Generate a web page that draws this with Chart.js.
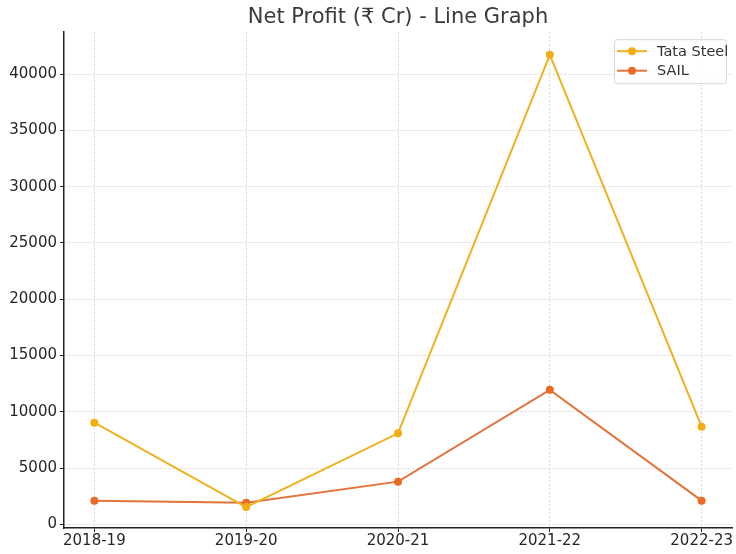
<!DOCTYPE html>
<html>
<head>
<meta charset="utf-8">
<script src="https://cdn.jsdelivr.net/npm/chart.js@4/dist/chart.umd.min.js"></script>
<style>
  html, body { margin: 0; padding: 0; background: #fff; }
  #wrap { width: 736px; height: 554px; }
</style>
</head>
<body>
<div id="wrap"><canvas id="myChart" width="736" height="554"></canvas></div>
<script>
const categories = ['2018-19', '2019-20', '2020-21', '2021-22', '2022-23'];
const tataSteel = [9025, 1530, 8080, 41720, 8670];
const sail = [2100, 1920, 3790, 11950, 2100];
const yTicks = [0, 5000, 10000, 15000, 20000, 25000, 30000, 35000, 40000];

const FONT = "'DejaVu Sans', sans-serif";

// matplotlib style legend: line + marker, boxed, top right
const boxLegend = {
  id: 'boxLegend',
  afterDraw(chart) {
    const ctx = chart.ctx;
    const area = chart.chartArea;
    const w = 112, h = 44;
    const x0 = area.right - w - 6, y0 = area.top + 7;
    ctx.save();
    ctx.fillStyle = 'rgba(255,255,255,0.85)';
    ctx.strokeStyle = '#d6d6d6';
    ctx.lineWidth = 1;
    ctx.beginPath();
    ctx.roundRect(x0 + 0.5, y0 + 0.5, w, h, 3);
    ctx.fill();
    ctx.stroke();
    chart.data.datasets.forEach(function (ds, i) {
      const cy = y0 + 12 + i * 19.5;
      ctx.strokeStyle = ds.borderColor;
      ctx.lineWidth = 2;
      ctx.beginPath();
      ctx.moveTo(x0 + 3, cy);
      ctx.lineTo(x0 + 33, cy);
      ctx.stroke();
      ctx.fillStyle = ds.backgroundColor;
      ctx.beginPath();
      ctx.arc(x0 + 18, cy, 4, 0, Math.PI * 2);
      ctx.fill();
      ctx.fillStyle = '#333';
      ctx.font = '14.5px ' + FONT;
      ctx.textBaseline = 'middle';
      ctx.fillText(ds.label, x0 + 43, cy + 1);
    });
    ctx.restore();
  }
};

const ctx = document.getElementById('myChart').getContext('2d');
const chart = new Chart(ctx, {
  type: 'line',
  data: {
    datasets: [{
      label: 'Tata Steel',
      data: tataSteel.map(function (v, i) { return { x: i, y: v }; }),
      borderColor: '#efb21e',
      backgroundColor: '#f2ad13',
      borderWidth: 2,
      pointRadius: 4,
      pointHoverRadius: 4,
      pointBorderWidth: 0,
      tension: 0,
    }, {
      label: 'SAIL',
      data: sail.map(function (v, i) { return { x: i, y: v }; }),
      borderColor: '#e2733a',
      backgroundColor: '#ea6a26',
      borderWidth: 2,
      pointRadius: 4,
      pointHoverRadius: 4,
      pointBorderWidth: 0,
      tension: 0,
    }],
  },
  options: {
    responsive: false,
    animation: false,
    layout: { padding: { top: 0, right: 3, bottom: 0, left: 0 } },
    plugins: {
      legend: { display: false },
      tooltip: { enabled: false },
      title: {
        display: true,
        fullSize: false,
        text: 'Net Profit (₹ Cr) - Line Graph',
        color: '#3a3a3a',
        font: { family: FONT, size: 21, weight: 'normal' },
        padding: { top: 5, bottom: 2 },
      },
    },
    scales: {
      x: {
        type: 'linear',
        min: -0.2,
        max: 4.2,
        afterBuildTicks: function (scale) {
          scale.ticks = categories.map(function (c, i) { return { value: i }; });
        },
        afterFit: function (scale) { scale.height = 26; },
        ticks: {
          autoSkip: false,
          maxRotation: 0,
          padding: 0,
          color: '#262626',
          font: { family: FONT, size: 15 },
          callback: function (v) { return categories[v]; },
        },
        grid: {
          color: '#d8d8d8',
          tickColor: '#222',
          tickLength: 4,
          lineWidth: 1,
        },
        border: { display: true, color: '#222', width: 1.5, dash: [2, 2] },
      },
      y: {
        min: -329,
        max: 43731,
        afterBuildTicks: function (scale) {
          scale.ticks = yTicks.map(function (v) { return { value: v }; });
        },
        afterFit: function (scale) { scale.width = 64; },
        ticks: {
          padding: 3,
          color: '#262626',
          font: { family: FONT, size: 15 },
          callback: function (v) { return String(v); },
        },
        grid: {
          color: '#d8d8d8',
          tickColor: '#222',
          tickLength: 4,
          lineWidth: 1,
        },
        border: { display: true, color: '#222', width: 1.5, dash: [2, 2] },
      },
    },
  },
  plugins: [boxLegend],
});
</script>
</body>
</html>
